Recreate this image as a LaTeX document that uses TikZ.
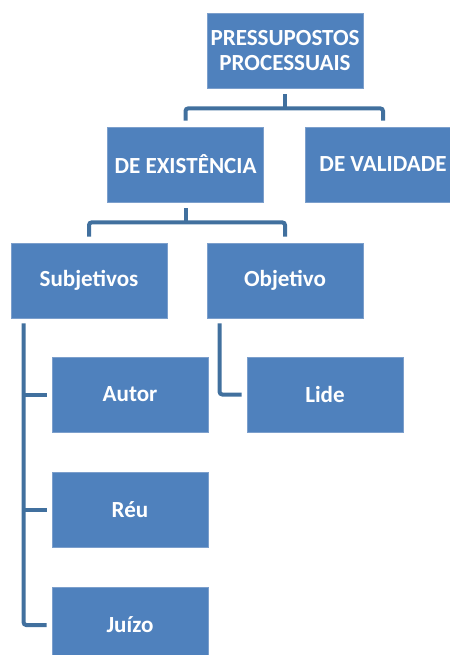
\documentclass[tikz,border=0pt]{standalone}
\usepackage{fontspec}
\setmainfont{Carlito}
\definecolor{caixaazul}{HTML}{4F81BD}
\definecolor{bordaazul}{HTML}{7C9FCC}
\definecolor{linhaazul}{HTML}{41709E}
\tikzset{
  caixa/.style={draw=bordaazul, line width=0.6pt, fill=caixaazul, text=white,
    minimum width=117pt, minimum height=56.25pt, inner sep=1pt, align=center,
    font=\bfseries\fontsize{17.3}{18.5}\selectfont},
  linha/.style={draw=linhaazul, line width=3pt, rounded corners=2pt}
}
\begin{document}
\begin{tikzpicture}[x=0.75pt,y=-0.75pt]
\useasboundingbox (0,0) rectangle (449,655);

% caixas
\node[caixa] (topo)  at (285,50.5)  {PRESSUPOSTOS\\PROCESSUAIS};
\node[caixa] (exist) at (185.5,164.5) {DE EXISTÊNCIA};
\node[caixa] (valid) at (383,164.5) {DE VALIDADE};
\node[caixa] (subj)  at (89,280.5)  {Subjetivos};
\node[caixa] (obj)   at (285,280.5) {Objetivo};
\node[caixa] (autor) at (130,394.5) {Autor};
\node[caixa] (lide)  at (325,394.5) {Lide};
\node[caixa] (reu)   at (130,510)   {Réu};
\node[caixa] (juizo) at (130,625)   {Juízo};

% ligacoes do topo
\draw[linha] ([yshift=-4.5pt]topo.south) -- ++(0,14) coordinate (m1);
\draw[linha] ([yshift=4.5pt]exist.north) |- (m1) -| ([yshift=4.5pt]valid.north);
% de existencia
\draw[linha] ([yshift=-4.5pt]exist.south) -- ++(0,14) coordinate (m2);
\draw[linha] ([yshift=4.5pt]subj.north) |- (m2) -| ([yshift=4.5pt]obj.north);
% subjetivos
\coordinate (sb) at ([xshift=9.75pt,yshift=-3.75pt]subj.south west);
\draw[linha] (sb) |- ([xshift=-3.75pt]juizo.west);
\foreach \filho in {autor,reu}
  \draw[linha] (sb |- \filho.west) -- ([xshift=-3.75pt]\filho.west);
% objetivo
\coordinate (ob) at ([xshift=9.75pt,yshift=-3.75pt]obj.south west);
\draw[linha] (ob) |- ([xshift=-3.75pt]lide.west);
\end{tikzpicture}
\end{document}
